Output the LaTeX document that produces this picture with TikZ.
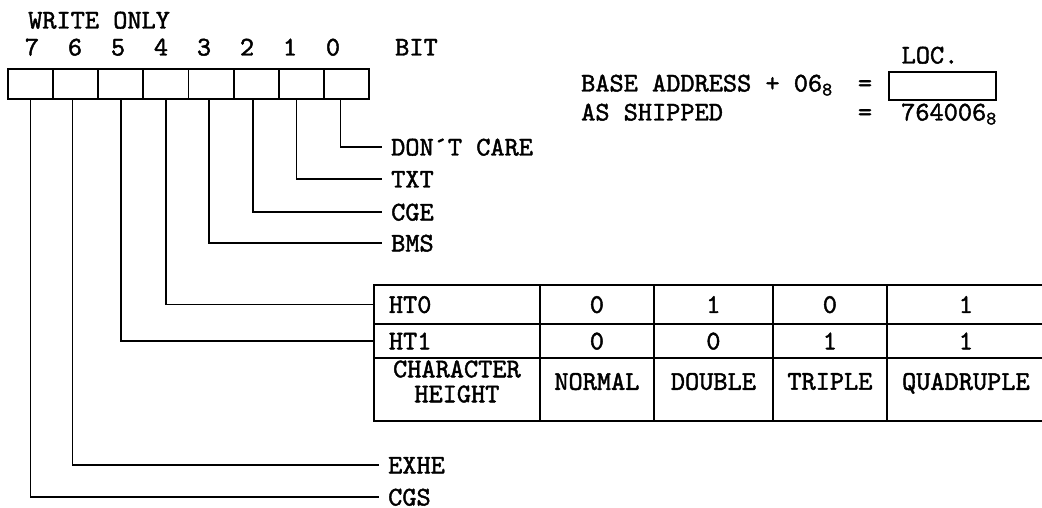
\documentclass[tikz,border=0pt]{standalone}
\usetikzlibrary{positioning}
\font\typer="[lmmono10-regular]:embolden=1.6" at 27pt
\font\typersub="[lmmono10-regular]:embolden=1.6" at 19pt
\newcommand{\typeface}{\typer\baselineskip 25pt\relax}
\newcommand{\octsub}[1]{\raisebox{-4pt}{\typersub #1}}
\newcommand{\lowpad}{\rule[-16pt]{0pt}{16pt}}
\tikzset{
  bit box/.style={rectangle, draw, line width=1.8pt,
    minimum width=45.125pt, minimum height=30pt, inner sep=0pt},
  plain text/.style={inner sep=0pt, text height=17pt, text depth=0pt},
  field label/.style={anchor=west, inner xsep=9pt, inner ysep=0pt,
    text height=17pt, text depth=0pt},
  lead line/.style={line width=1.6pt},
  table cell/.style={rectangle, draw, line width=1.8pt, inner sep=0pt,
    anchor=north west, align=center}
}

\begin{document}
\begin{tikzpicture}[x=1pt, y=-1pt, font=\typeface]
  \useasboundingbox (0,0) rectangle (1042,508);

  % register and bit numbers
  \node[plain text, anchor=west] (wronly) at (28,20) {WRITE ONLY};
  \foreach \b in {0,...,7} {
    \node[bit box] (b\b) at ({30.56+45.125*(7-\b)},84) {};
    \node[plain text] (n\b) at ({32+43*(7-\b)},47) {\b};
  }
  \node[plain text, anchor=west] (bitlbl) at (395,47) {BIT};

  % location
  \node[plain text, anchor=west] (baseaddr) at (581,83) {BASE ADDRESS + 06\octsub{8}};
  \node[plain text] (eqa) at (865,83) {=};
  \node[draw, line width=1.6pt, minimum width=107pt, minimum height=28pt,
    inner sep=0pt] (locbox) at (942.5,86) {};
  \node[plain text] (loc) at (930,55) {LOC.};
  \node[plain text, anchor=west] (shipped) at (581,112) {AS SHIPPED};
  \node[plain text] (eqb) at (865,112) {=};
  \node[plain text, anchor=west] (shipval) at (901,112) {764006\octsub{8}};

  % field names
  \node[field label] (dontcare) at (382,147) {DON´T CARE};
  \node[field label] (txt) at (382,179) {TXT};
  \node[field label] (cge) at (382,212) {CGE};
  \node[field label] (bms) at (382,243) {BMS};
  \node[field label] (exhe) at (379,465) {EXHE};
  \node[field label] (cgs) at (379,497) {CGS};

  % height table
  \node[table cell, minimum width=166pt, minimum height=39pt, text width=136pt,
    align=left, text height=17pt, text depth=0pt] (ht0) at (373,284) {HT0};
  \node[table cell, minimum width=166pt, minimum height=34pt, text width=136pt,
    align=left, text height=17pt, text depth=0pt] (ht1) at (373,323) {HT1};
  \node[table cell, minimum width=166pt, minimum height=63pt] (charht) at (373,357)
    {CHARACTER\\HEIGHT\lowpad};
  \foreach \c/\x/\w/\p/\q/\h in {1/539/114/0/0/NORMAL, 2/653/119/1/0/DOUBLE,
      3/772/114/0/1/TRIPLE, 4/886/158/1/1/QUADRUPLE} {
    \node[table cell, minimum width=\w pt, minimum height=39pt,
      text height=17pt, text depth=0pt] (hta\c) at (\x,284) {\p};
    \node[table cell, minimum width=\w pt, minimum height=34pt,
      text height=17pt, text depth=0pt] (htb\c) at (\x,323) {\q};
    \node[table cell, minimum width=\w pt, minimum height=63pt] (htc\c) at (\x,357)
      {\h\lowpad};
  }

  % leads
  \draw[lead line] ([xshift=-6pt]b0.south) |- (dontcare.west);
  \draw[lead line] ([xshift=-5pt]b1.south) |- (txt.west);
  \draw[lead line] ([xshift=-3pt]b2.south) |- (cge.west);
  \draw[lead line] ([xshift=-2pt]b3.south) |- (bms.west);
  \draw[lead line] (b4.south) |- (ht0.west);
  \draw[lead line] (b5.south) |- (ht1.west);
  \draw[lead line] ([xshift=-3pt]b6.south) |- (exhe.west);
  \draw[lead line] (b7.south) |- (cgs.west);
\end{tikzpicture}
\end{document}
